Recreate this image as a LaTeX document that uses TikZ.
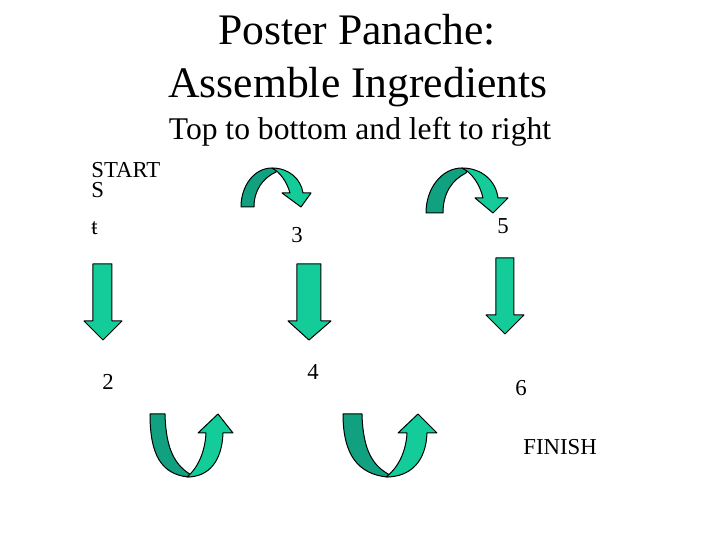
\documentclass[tikz,border=0pt]{standalone}
\usepackage{fontspec}
\setmainfont{Liberation Serif}

\definecolor{arrowfront}{RGB}{20,204,153}
\definecolor{arrowback}{RGB}{17,160,128}

\tikzset{
  front/.style={fill=arrowfront,draw=black,line width=0.5pt,line join=round},
  back/.style={fill=arrowback,draw=black,line width=0.5pt,line join=round},
  small/.style={inner sep=0pt,font=\fontsize{11.4}{13}\selectfont}
}

\begin{document}
\begin{tikzpicture}[x=0.5pt,y=-0.5pt]
  \useasboundingbox (0,0) rectangle (720,540);

  \node[inner sep=0pt,anchor=base,font=\fontsize{21.8}{26}\selectfont] (title1) at (357,45) {Poster Panache:};
  \node[inner sep=0pt,anchor=base,font=\fontsize{21.8}{26}\selectfont] (title2) at (358,98) {Assemble Ingredients};
  \node[inner sep=0pt,anchor=base,font=\fontsize{15.8}{19}\selectfont] (subtitle) at (360,140) {Top to bottom and left to right};

  \node[small,anchor=base west] (start) at (91,178) {START};
  \node[small,anchor=base west] (s) at (91,198) {S};
  \node[small,anchor=base west] (one) at (91,235) {ŧ};
  \node[small,anchor=base] (two) at (108,390) {2};
  \node[small,anchor=base] (three) at (297,243) {3};
  \node[small,anchor=base] (four) at (313,380) {4};
  \node[small,anchor=base] (five) at (503,234) {5};
  \node[small,anchor=base] (six) at (521,396) {6};
  \node[small,anchor=base west] (finish) at (523,455) {FINISH};

  % down arrows
  \draw[front] (93,264) -- (112,264) -- (112,321) -- (122,321) -- (103,340) -- (84,321) -- (93,321) -- cycle;
  \draw[front] (297,264) -- (321,264) -- (321,321) -- (331,321) -- (309,340) -- (288,321) -- (297,321) -- cycle;
  \draw[front] (496,258) -- (514,258) -- (514,315) -- (524,315) -- (505,334) -- (486,315) -- (496,315) -- cycle;

  % curved down arrows
  \draw[back] (241,207) .. controls (241,186) and (254,168) .. (272,168)
    .. controls (276,170) and (278,171) .. (276,172)
    .. controls (263,178) and (254,190) .. (254,207) -- cycle;
  \draw[front] (272,168) .. controls (289,168) and (301,179) .. (303,193)
    -- (311,193) -- (301,207) -- (282,193) -- (290,193)
    .. controls (287,182) and (280,172) .. (272,168) -- cycle;

  \draw[back] (426,213) .. controls (426,188) and (442,168) .. (462,168)
    .. controls (466,170) and (468,171) .. (466,173)
    .. controls (452,180) and (443,193) .. (443,213) -- cycle;
  \draw[front] (462,168) .. controls (482,168) and (496,181) .. (498,198)
    -- (508,198) -- (493,213) -- (475,198) -- (483,198)
    .. controls (480,184) and (471,172) .. (462,168) -- cycle;

  % U-turn arrows
  \draw[back] (150,414) -- (165,414) .. controls (166,450) and (175,466) .. (193,476)
    -- (188,477) .. controls (162,474) and (150,456) .. (150,414) -- cycle;
  \draw[front] (187,477) .. controls (209,477) and (222,461) .. (223,433)
    -- (233,433) -- (218,414) -- (198,433) -- (206,433)
    .. controls (205,453) and (197,469) .. (187,477) -- cycle;

  \draw[back] (343,414) -- (362,414) .. controls (363,451) and (373,467) .. (392,476)
    -- (387,477) .. controls (359,474) and (343,456) .. (343,414) -- cycle;
  \draw[front] (386,477) .. controls (411,477) and (426,461) .. (427,433)
    -- (437,433) -- (418,414) -- (398,433) -- (407,433)
    .. controls (406,453) and (397,469) .. (386,477) -- cycle;

\end{tikzpicture}
\end{document}
